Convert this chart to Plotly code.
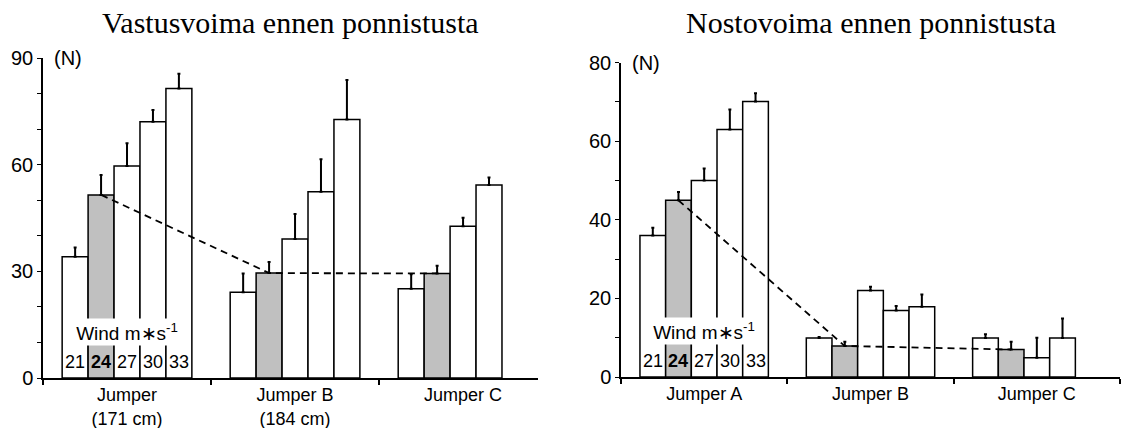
import plotly.graph_objects as go

# ---------------- data ----------------
winds = ["21", "24", "27", "30", "33"]
highlight_wind = "24"

left_title = "Vastusvoima ennen ponnistusta"
left_categories = ["Jumper<br>(171 cm)", "Jumper B<br>(184 cm)", "Jumper C"]
left_values = {
    "21": [34.1, 24.1, 25.1],
    "24": [51.5, 29.5, 29.4],
    "27": [59.6, 39.1, 42.7],
    "30": [72.1, 52.4, 54.3],
    "33": [81.4, 72.7, None],
}
left_errors = {
    "21": [2.6, 5.3, 4.1],
    "24": [5.6, 3.1, 2.2],
    "27": [6.4, 7.0, 2.4],
    "30": [3.3, 9.1, 2.1],
    "33": [4.2, 11.1, None],
}
left_ytickvals = [0, 30, 60, 90]
left_yminor = [10, 20, 40, 50, 70, 80]

right_title = "Nostovoima ennen ponnistusta"
right_categories = ["Jumper A", "Jumper B", "Jumper C"]
right_values = {
    "21": [36.0, 9.9, 9.9],
    "24": [45.0, 7.9, 7.0],
    "27": [50.0, 22.0, 4.9],
    "30": [63.0, 16.9, 9.9],
    "33": [70.1, 17.9, None],
}
right_errors = {
    "21": [2.0, 0.3, 1.0],
    "24": [2.1, 1.1, 2.0],
    "27": [3.1, 1.0, 5.1],
    "30": [5.1, 1.2, 5.0],
    "33": [2.1, 3.1, None],
}
right_ytickvals = [0, 20, 40, 60, 80]
right_yminor = [10, 30, 50, 70]

unit_label = "(N)"
wind_label = "Wind m\u2217s<sup>-1</sup>"

# ---------------- style ----------------
SANS = "Liberation Sans, Arial, sans-serif"
SERIF = "Liberation Serif, Times New Roman, serif"
GRAY = "#c0c0c0"
W, H = 1121, 428

panels = [
    dict(title=left_title, cats=left_categories, vals=left_values, errs=left_errors,
         tv=left_ytickvals, mv=left_yminor, yr=[0, 90], xr=[-0.5, 2.446],
         xdom=[43 / W, 538 / W], ydom=[(H - 378) / H, (H - 58) / H], bargap=0.232),
    dict(title=right_title, cats=right_categories, vals=right_values, errs=right_errors,
         tv=right_ytickvals, mv=right_yminor, yr=[0, 80], xr=[-0.5, 2.5],
         xdom=[621 / W, 1120 / W], ydom=[(H - 377) / H, (H - 62.7) / H], bargap=0.224),
]

fig = go.Figure()
annotations = []
layout = {}

for p_i, p in enumerate(panels):
    xa = "x" if p_i == 0 else "x2"
    ya = "y" if p_i == 0 else "y2"
    xkey = "xaxis" if p_i == 0 else "xaxis2"
    ykey = "yaxis" if p_i == 0 else "yaxis2"
    n_groups = len(p["cats"])
    xs = list(range(n_groups))
    bw = (1 - p["bargap"]) / len(winds)

    for w in winds:
        fig.add_trace(go.Bar(
            x=xs, y=p["vals"][w], xaxis=xa, yaxis=ya,
            marker=dict(color=GRAY if w == highlight_wind else "white",
                        line=dict(color="black", width=1.5)),
            error_y=dict(type="data", symmetric=False, array=p["errs"][w],
                         arrayminus=[0] * n_groups, color="black",
                         thickness=2, width=1.5),
            showlegend=False, hoverinfo="skip",
        ))

    # dashed line linking highlighted (24 m/s) bars
    h_idx = winds.index(highlight_wind)
    offs = (h_idx - (len(winds) - 1) / 2) * bw
    fig.add_trace(go.Scatter(
        x=[g + offs for g in xs], y=p["vals"][highlight_wind], xaxis=xa, yaxis=ya,
        mode="lines", line=dict(color="black", width=1.8, dash="7px,5px"),
        showlegend=False, hoverinfo="skip",
    ))

    layout[xkey] = dict(
        domain=p["xdom"], anchor=ya, range=p["xr"], automargin=False,
        tickmode="array", tickvals=xs, ticktext=p["cats"], ticks="",
        ticklabelstandoff=0,
        tickfont=dict(family=SANS, size=18, color="black"),
        showline=True, linecolor="black", linewidth=1.5, showgrid=False,
        zeroline=False, fixedrange=True,
        minor=dict(tickmode="array", tickvals=[g - 0.5 for g in xs] + [n_groups - 0.5],
                   ticks="outside", ticklen=5, tickcolor="black", tickwidth=1.5,
                   showgrid=False),
    )
    layout[ykey] = dict(
        domain=p["ydom"], anchor=xa, range=p["yr"], automargin=False,
        tickmode="array", tickvals=p["tv"], ticktext=[str(v) for v in p["tv"]],
        ticks="outside", ticklen=4, tickwidth=1.2, tickcolor="black",
        tickfont=dict(family=SANS, size=20, color="black"),
        showline=True, linecolor="black", linewidth=1.5, showgrid=False,
        zeroline=False, fixedrange=True,
        minor=dict(tickmode="array", tickvals=p["mv"], ticks="outside", ticklen=4,
                   tickwidth=1.2, tickcolor="black", showgrid=False),
    )

    xd = f"{xa} domain"
    yd = f"{ya} domain"
    # title
    annotations.append(dict(text=p["title"], xref=xd, yref="paper", x=0.5, y=1 - 23 / H,
                            xanchor="center", yanchor="middle", showarrow=False,
                            font=dict(family=SERIF, size=30, color="black")))
    # unit label
    annotations.append(dict(text=unit_label, xref=xd, yref=yd, x=0.018, y=1.0,
                            xanchor="left", yanchor="middle", showarrow=False,
                            font=dict(family=SANS, size=20, color="black")))
    # wind label box in first group
    annotations.append(dict(text=wind_label, xref=xa, yref=yd, x=0, y=0.145,
                            xanchor="center", yanchor="middle", showarrow=False,
                            bgcolor="white", width=116, height=26, borderpad=0,
                            font=dict(family=SANS, size=19, color="black")))
    # wind speed numbers inside bars of first group
    for s_i, w in enumerate(winds):
        txt = f"<b>{w}</b>" if w == highlight_wind else w
        annotations.append(dict(text=txt, xref=xa, yref=yd,
                                x=(s_i - (len(winds) - 1) / 2) * bw, y=0.05,
                                xanchor="center", yanchor="middle", showarrow=False,
                                font=dict(family=SANS, size=18, color="black")))

fig.update_layout(
    width=W, height=H, barmode="group", bargroupgap=0, bargap=0.228,
    margin=dict(l=0, r=0, t=0, b=0, autoexpand=False),
    paper_bgcolor="white", plot_bgcolor="white",
    annotations=annotations, **layout,
)

fig.write_html("out.html")
